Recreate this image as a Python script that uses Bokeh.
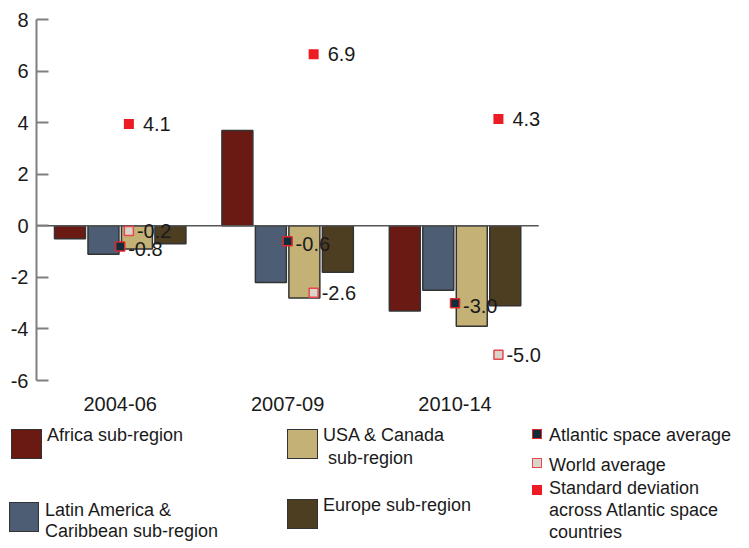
import html
from bokeh.plotting import figure
from bokeh.layouts import column
from bokeh.models import (ColumnDataSource, Range1d, FixedTicker, NumeralTickFormatter, Div)
from bokeh.transform import dodge
from bokeh.core.properties import value
from bokeh.embed import file_html
from bokeh.resources import INLINE

# ---- data ----
periods = ["2004-06", "2007-09", "2010-14"]
period_pos = [1, 2, 3]          # positions on the secondary (scatter) x axis
africa = [-0.5, 3.7, -3.3]
latam = [-1.1, -2.2, -2.5]
usa_canada = [-0.9, -2.8, -3.9]
europe = [-0.7, -1.8, -3.1]
atlantic_avg = [-0.8, -0.6, -3.0]
world_avg = [-0.2, -2.6, -5.0]
std_dev = [4.1, 6.9, 4.3]
y_ticks = [-6, -4, -2, 0, 2, 4, 6, 8]

FONT = "Liberation Sans"
TXT = "#1a1a1a"
C_AF, C_LA, C_US, C_EU = "#6b1a13", "#4d5e74", "#c4b176", "#4d3d21"
BAR_LINE = "#333333"
ATL_FILL, ATL_LINE = "#0f2d3a", "#e0262b"
WLD_FILL, WLD_LINE = "#d9d4cc", "#e8474c"
SD_FILL = "#ed1c24"

centers = [i + 0.5 for i in range(len(periods))]   # category centres on the primary x axis

src = ColumnDataSource(dict(
    period=periods, xc=centers, pos=period_pos,
    africa=africa, latam=latam, usa=usa_canada, europe=europe,
    atl=atlantic_avg, world=world_avg, sd=std_dev,
    atl_lbl=[f"{v:.1f}" for v in atlantic_avg],
    world_lbl=[f"{v:.1f}" for v in world_avg],
    sd_lbl=[f"{v:.1f}" for v in std_dev],
))

p = figure(x_range=Range1d(0, 3.13), y_range=Range1d(-6, 8),
           width=741, height=414, output_backend="svg", toolbar_location=None,
           min_border_left=36, min_border_right=181, min_border_top=19,
           min_border_bottom=34)
p.extra_x_ranges = {"pos": Range1d(0.5, 3.336)}
p.extra_y_ranges = {"sd": Range1d(-6.22, 8.30)}

p.outline_line_color = None
p.xgrid.visible = False
p.ygrid.visible = False

bar_w = 0.185
bar_specs = [("africa", -0.3, C_AF), ("latam", -0.1, C_LA),
             ("usa", 0.1, C_US), ("europe", 0.3, C_EU)]
for col, off, color in bar_specs:
    p.vbar(x=dodge("xc", off), top=col, bottom=0, width=bar_w, source=src,
           fill_color=color, line_color=BAR_LINE, line_width=1.5)

# zero baseline across the three periods
p.segment(x0=[0], x1=[len(periods)], y0=[0], y1=[0], line_color="#555555", line_width=1.5)

p.scatter(x="xc", y="atl", source=src, marker="square", size=9,
          fill_color=ATL_FILL, line_color=ATL_LINE, line_width=1.5)
p.scatter(x="pos", y="world", source=src, x_range_name="pos", marker="square",
          size=9, fill_color=WLD_FILL, line_color=WLD_LINE, line_width=1.5)
p.scatter(x="pos", y="sd", source=src, x_range_name="pos", y_range_name="sd",
          marker="square", size=10, fill_color=SD_FILL, line_color=None)

common = dict(source=src, text_align="left", text_baseline="middle",
              text_font_size="20px", text_font=value(FONT), text_color=TXT)
p.text(x="xc", y="atl", text="atl_lbl", x_offset=8, y_offset=3, **common)
p.text(x="pos", y="world", text="world_lbl", x_range_name="pos", x_offset=8, **common)
p.text(x="pos", y="sd", text="sd_lbl", x_range_name="pos", y_range_name="sd",
       x_offset=14, **common)

# axes
ya = p.yaxis[0]
ya.ticker = FixedTicker(ticks=y_ticks)
ya.formatter = NumeralTickFormatter(format="0")
ya.major_tick_in = 12
ya.major_tick_out = 0
ya.minor_tick_line_color = None
ya.axis_line_color = "#7f7f7f"
ya.axis_line_width = 2
ya.major_tick_line_color = "#7f7f7f"
ya.major_tick_line_width = 2
ya.major_label_text_font_size = "20px"
ya.major_label_text_font = FONT
ya.major_label_text_color = TXT
ya.major_label_standoff = 8

xa = p.xaxis[0]
xa.ticker = FixedTicker(ticks=centers)
xa.major_label_overrides = {c: lab for c, lab in zip(centers, periods)}
xa.axis_line_color = None
xa.major_tick_line_color = None
xa.minor_tick_line_color = None
xa.major_label_text_font_size = "20px"
xa.major_label_text_font = FONT
xa.major_label_text_color = TXT
xa.major_label_standoff = 10


# ---- legend (HTML block under the chart) ----
def swatch(x, y, w, h, fill, border):
    return (f'<div style="position:absolute;left:{x}px;top:{y}px;width:{w}px;height:{h}px;'
            f'box-sizing:border-box;background:{fill};border:{border};"></div>')


def label(x, y, lh, text):
    return (f'<div style="position:absolute;left:{x}px;top:{y}px;line-height:{lh}px;'
            f'white-space:pre;">{html.escape(text)}</div>')


bar_border = f"1.5px solid {BAR_LINE}"
parts = [
    swatch(11, 15, 31, 30, C_AF, bar_border),
    label(47, 11, 21, "Africa sub-region"),
    swatch(9, 88, 30, 30, C_LA, bar_border),
    label(45, 86, 21, "Latin America &\nCaribbean sub-region"),
    swatch(287, 15, 31, 30, C_US, bar_border),
    label(323, 10, 23, "USA & Canada\n sub-region"),
    swatch(287, 85, 31, 30, C_EU, bar_border),
    label(323, 81, 21, "Europe sub-region"),
    swatch(532, 15, 10, 10, ATL_FILL, f"1.5px solid {ATL_LINE}"),
    label(549, 11, 21, "Atlantic space average"),
    swatch(532, 44, 10, 10, WLD_FILL, f"1.5px solid {WLD_LINE}"),
    label(549, 41, 21, "World average"),
    swatch(532, 71, 10, 10, SD_FILL, "none"),
    label(549, 63, 22, "Standard deviation\nacross Atlantic space\ncountries"),
]
legend_html = (f'<div style="position:relative;width:741px;height:130px;overflow:hidden;'
               f"font-family:'{FONT}';font-size:18px;color:{TXT};\">" + "".join(parts) + "</div>")
legend = Div(text=legend_html, width=741, height=130, margin=0)

layout = column(p, legend, spacing=0)
open("out.html", "w").write(file_html(layout, INLINE))
